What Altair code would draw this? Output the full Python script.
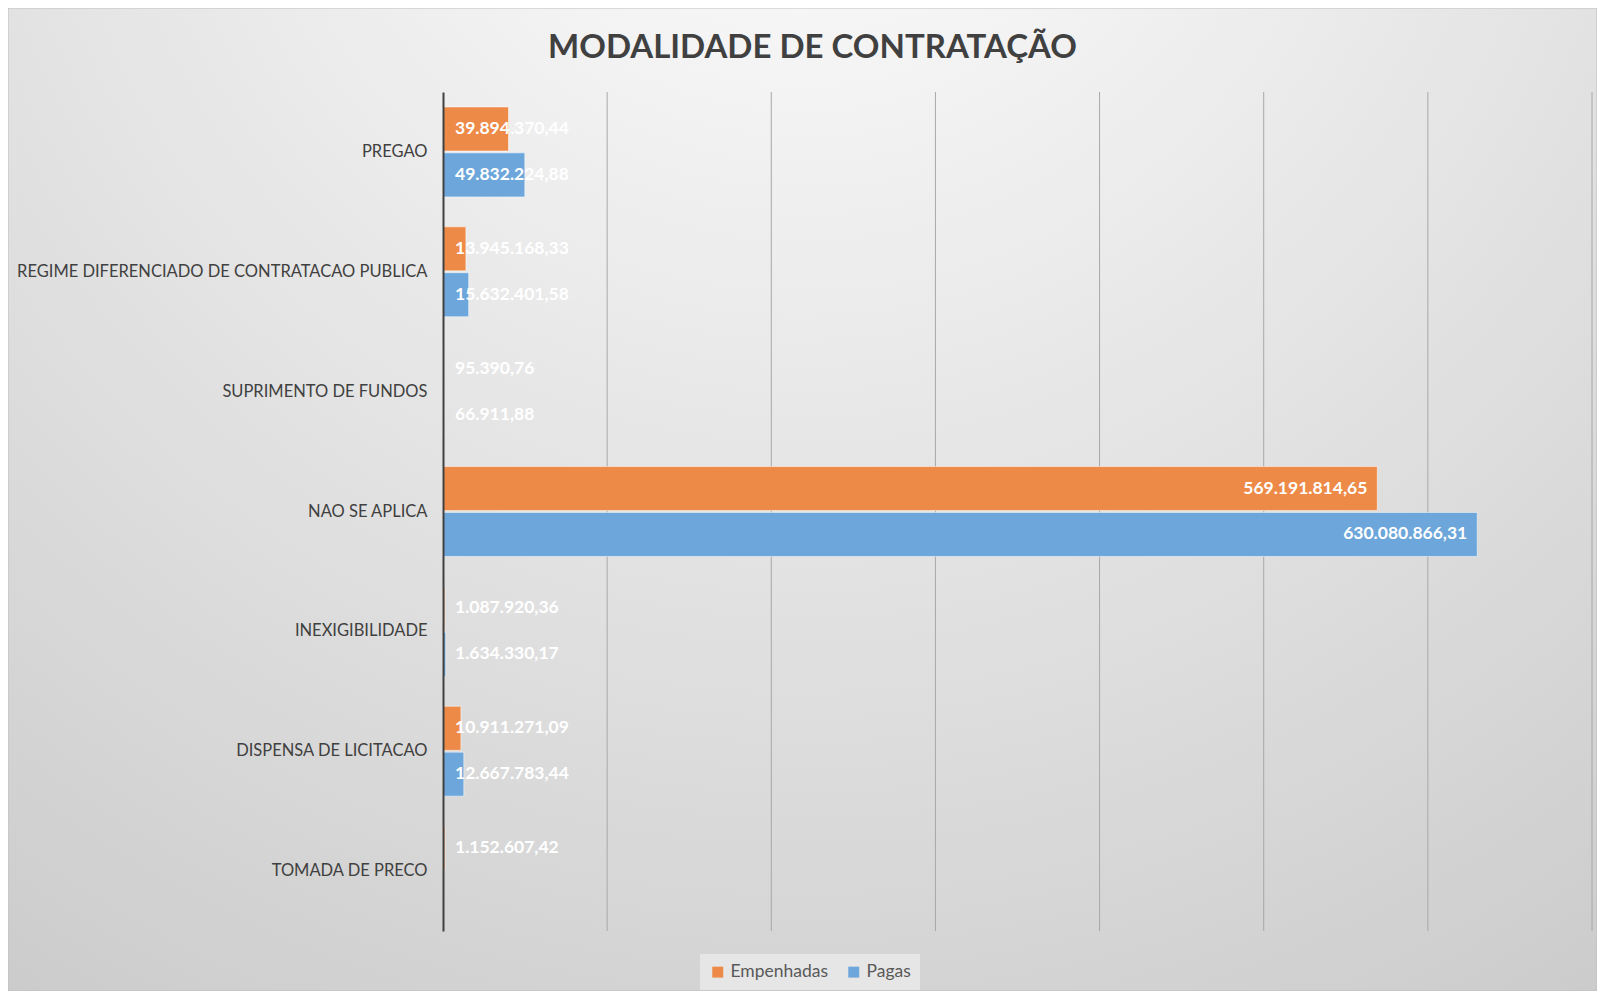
import altair as alt
import pandas as pd

categories = [
    "PREGAO",
    "REGIME DIFERENCIADO DE CONTRATACAO PUBLICA",
    "SUPRIMENTO DE FUNDOS",
    "NAO SE APLICA",
    "INEXIGIBILIDADE",
    "DISPENSA DE LICITACAO",
    "TOMADA DE PRECO",
]
empenhadas = [39894370.44, 13945168.33, 95390.76, 569191814.65, 1087920.36, 10911271.09, 1152607.42]
pagas = [49832224.88, 15632401.58, 66911.88, 630080866.31, 1634330.17, 12667783.44, None]
series = ["Empenhadas", "Pagas"]
colors = ["#EE8A47", "#6CA6DA"]
x_ticks = [100000000, 200000000, 300000000, 400000000, 500000000, 600000000, 700000000]


def br(v):
    s = f"{v:,.2f}"
    return s.replace(",", "X").replace(".", ",").replace("X", ".")


rows = []
for c, e, p in zip(categories, empenhadas, pagas):
    for s, v in ((series[0], e), (series[1], p)):
        if v is None:
            continue
        rows.append({"cat": c, "serie": s, "valor": v, "rotulo": br(v), "grande": v > 200000000})
df = pd.DataFrame(rows)
grid_df = pd.DataFrame({"v": x_ticks})

W, H = 1149, 839
FONT = "Lato"

x_scale = alt.Scale(domain=[0, 700000000], nice=False)

y_enc = alt.Y(
    "cat:N",
    sort=categories,
    title=None,
    scale=alt.Scale(paddingInner=0.25, paddingOuter=0.125),
    axis=alt.Axis(
        labelFont=FONT, labelFontSize=16.5, labelColor="#404040", labelPadding=16,
        ticks=False, domain=True, domainColor="#404040", domainWidth=2, grid=False,
        labelLimit=600, zindex=1,
    ),
)
yoff = alt.YOffset("serie:N", sort=series, scale=alt.Scale(paddingInner=0.04))
x_enc = alt.X(
    "valor:Q",
    title=None,
    scale=x_scale,
    axis=None,
)

bg = alt.Chart(alt.Data(values=[{}])).mark_rect(
    fill={
        "gradient": "radial",
        "x1": 0.5, "y1": 0.02, "r1": 0,
        "x2": 0.5, "y2": 0.02, "r2": 1.0,
        "stops": [
            {"offset": 0, "color": "#ffffff"},
            {"offset": 0.35, "color": "#ececec"},
            {"offset": 1, "color": "#c8c8c8"},
        ],
    },
    stroke="#bfbfbf",
    strokeWidth=1,
).encode(
    x=alt.value(-435), x2=alt.value(W + 5),
    y=alt.value(-84), y2=alt.value(H + 60),
)

grid = alt.Chart(grid_df).mark_rule(color="#a8a8a8", strokeWidth=1).encode(
    x=alt.X("v:Q", scale=x_scale, axis=None),
)

base = alt.Chart(df)

bars = base.mark_bar(stroke="#ffffff", strokeOpacity=0.5, strokeWidth=1).encode(
    x=x_enc,
    y=y_enc,
    yOffset=yoff,
    color=alt.Color(
        "serie:N",
        sort=series,
        scale=alt.Scale(domain=series, range=colors),
        legend=alt.Legend(
            orient="none", legendX=257, legendY=862, direction="horizontal", title=None,
            fillColor="#e6e6e6", padding=9, symbolType="square", symbolSize=120,
            symbolStrokeWidth=0, labelFont=FONT, labelFontSize=17.5, labelColor="#595959",
            columnPadding=16,
        ),
    ),
)

small_labels = base.transform_filter("!datum.grande").mark_text(
    align="left", baseline="middle", dx=12, color="white", font=FONT,
    fontSize=17.5, fontWeight="bold",
).encode(
    x=alt.datum(0),
    y=alt.Y("cat:N", sort=categories),
    yOffset=yoff,
    text="rotulo:N",
)

big_labels = base.transform_filter("datum.grande").mark_text(
    align="right", baseline="middle", dx=-10, color="white", font=FONT,
    fontSize=17.5, fontWeight="bold",
).encode(
    x="valor:Q",
    y=alt.Y("cat:N", sort=categories),
    yOffset=yoff,
    text="rotulo:N",
)

chart = alt.layer(bg, grid, bars, small_labels, big_labels).properties(
    width=W,
    height=H,
    title=alt.TitleParams(
        "MODALIDADE DE CONTRATAÇÃO", font=FONT, fontSize=33, fontWeight="bold",
        color="#404040", anchor="middle", frame="group", dx=-205, offset=-57,
    ),
    padding={"left": 435, "top": 84, "right": 5, "bottom": 60},
    autosize=alt.AutoSizeParams(type="none"),
).configure_view(stroke=None).configure(background="#ffffff")

chart.save("out.html", embed_options={"renderer": "svg", "actions": False})
